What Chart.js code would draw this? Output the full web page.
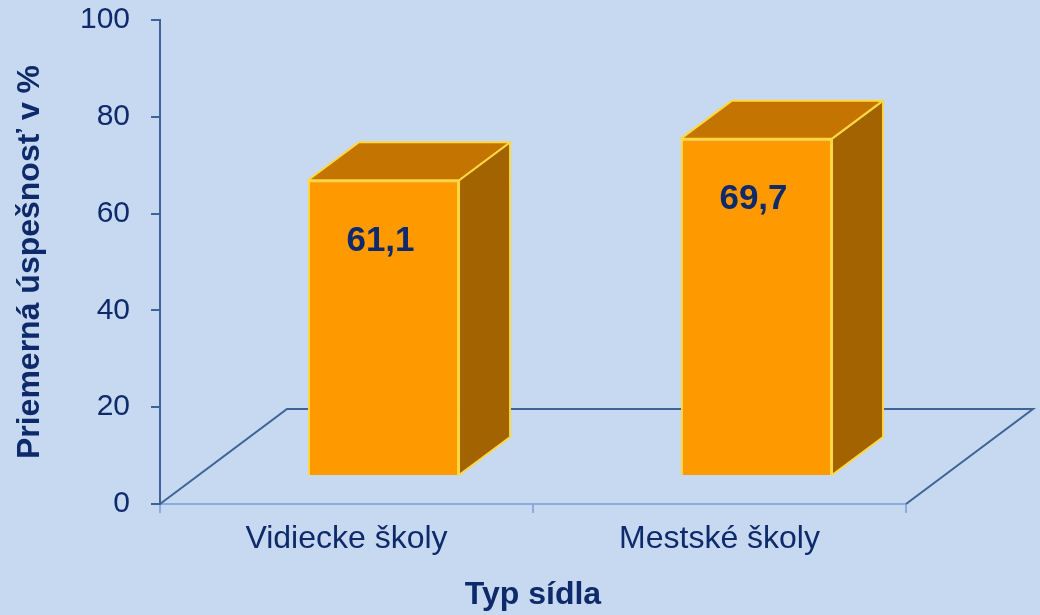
<!DOCTYPE html>
<html lang="sk">
<head>
    <meta charset="UTF-8">
    <title>Priemerná úspešnosť podľa typu sídla</title>
    <script src="https://cdn.jsdelivr.net/npm/chart.js"></script>
    <style>
        html, body { margin: 0; padding: 0; background: #C6D9F0; }
        #wrap { width: 1040px; height: 615px; }
    </style>
</head>
<body>
    <div id="wrap"><canvas id="graf"></canvas></div>

    <script>
        // Dáta
        const kategorie = ['Vidiecke školy', 'Mestské školy'];
        const hodnoty = [61.1, 69.7];
        const osY = { min: 0, max: 100, krok: 20 };

        const navy = '#0E2A6B';
        const font = "'Liberation Sans', Arial, sans-serif";

        // 3D posuny (iba vzhľad)
        const hlbkaPodlahy = { x: 127, y: 95 };
        const posunStlpca = { x: 37, y: 28 };
        const hlbkaStlpca = { x: 51, y: 38 };

        const pozadie = {
            id: 'pozadie',
            beforeDraw(chart) {
                const c = chart.ctx;
                c.save();
                c.fillStyle = '#C6D9F0';
                c.fillRect(0, 0, chart.width, chart.height);
                c.restore();
            }
        };

        const stlpce3D = {
            id: 'stlpce3D',
            beforeDatasetsDraw(chart) {
                const c = chart.ctx;
                const a = chart.chartArea;
                // podlaha
                c.save();
                c.strokeStyle = '#3D6497';
                c.lineWidth = 2;
                c.beginPath();
                c.moveTo(a.left, a.bottom);
                c.lineTo(a.left + hlbkaPodlahy.x, a.bottom - hlbkaPodlahy.y);
                c.lineTo(a.right + hlbkaPodlahy.x, a.bottom - hlbkaPodlahy.y);
                c.lineTo(a.right, a.bottom);
                c.stroke();
                c.restore();
                // stĺpce kreslí Chart.js posunuté do hĺbky
                c.save();
                c.translate(posunStlpca.x, -posunStlpca.y);
            },
            afterDatasetsDraw(chart) {
                const c = chart.ctx;
                const meta = chart.getDatasetMeta(0);
                const dx = hlbkaStlpca.x, dy = hlbkaStlpca.y;
                meta.data.forEach((bar, i) => {
                    const l = bar.x - bar.width / 2;
                    const r = bar.x + bar.width / 2;
                    const t = bar.y, b = bar.base;
                    c.lineWidth = 2;
                    c.strokeStyle = '#FFD740';
                    c.lineJoin = 'round';
                    // bočná stena
                    c.beginPath();
                    c.moveTo(r, t);
                    c.lineTo(r + dx, t - dy);
                    c.lineTo(r + dx, b - dy);
                    c.lineTo(r, b);
                    c.closePath();
                    c.fillStyle = '#A36300';
                    c.fill();
                    c.stroke();
                    // vrch
                    c.beginPath();
                    c.moveTo(l, t);
                    c.lineTo(l + dx, t - dy);
                    c.lineTo(r + dx, t - dy);
                    c.lineTo(r, t);
                    c.closePath();
                    c.fillStyle = '#C47400';
                    c.fill();
                    c.stroke();
                    // hodnota
                    c.fillStyle = navy;
                    c.font = 'bold 35px ' + font;
                    c.textAlign = 'center';
                    c.textBaseline = 'middle';
                    c.fillText(hodnoty[i].toFixed(1).replace('.', ','), bar.x - 3, t + 61);
                });
                c.restore();
            }
        };

        new Chart(document.getElementById('graf'), {
            type: 'bar',
            data: {
                labels: kategorie,
                datasets: [{
                    data: hodnoty,
                    backgroundColor: '#FF9900',
                    borderColor: '#FFD740',
                    borderWidth: 2,
                    barPercentage: 0.405,
                    categoryPercentage: 1
                }]
            },
            options: {
                responsive: true,
                maintainAspectRatio: false,
                animation: false,
                layout: { padding: { top: 20, right: 134, left: 0, bottom: 0 } },
                plugins: {
                    legend: { display: false },
                    tooltip: { enabled: false }
                },
                scales: {
                    x: {
                        afterFit(s) { s.height = 111; },
                        grid: {
                            drawOnChartArea: false,
                            tickLength: 9,
                            color: '#8FAADC',
                            lineWidth: 2
                        },
                        border: { color: '#8FAADC', width: 2 },
                        ticks: {
                            color: navy,
                            padding: 7,
                            font: { size: 32, family: font }
                        },
                        title: {
                            display: true,
                            text: 'Typ sídla',
                            color: navy,
                            padding: { top: 0, bottom: 1 },
                            font: { size: 32, weight: 'bold', family: font }
                        }
                    },
                    y: {
                        min: osY.min,
                        max: osY.max,
                        afterFit(s) {
                            s.width = 160;
                            s.paddingTop = 0;
                            s.paddingBottom = 0;
                        },
                        grid: {
                            drawOnChartArea: false,
                            tickLength: 9,
                            color: '#3D6497',
                            lineWidth: 2
                        },
                        border: { color: '#3D6497', width: 2 },
                        ticks: {
                            stepSize: osY.krok,
                            color: navy,
                            padding: 21,
                            font: { size: 30, family: font }
                        },
                        title: {
                            display: true,
                            text: 'Priemerná úspešnosť v %',
                            color: navy,
                            padding: { top: 11, bottom: 0 },
                            font: { size: 32, weight: 'bold', family: font }
                        }
                    }
                }
            },
            plugins: [pozadie, stlpce3D]
        });
    </script>
</body>
</html>
